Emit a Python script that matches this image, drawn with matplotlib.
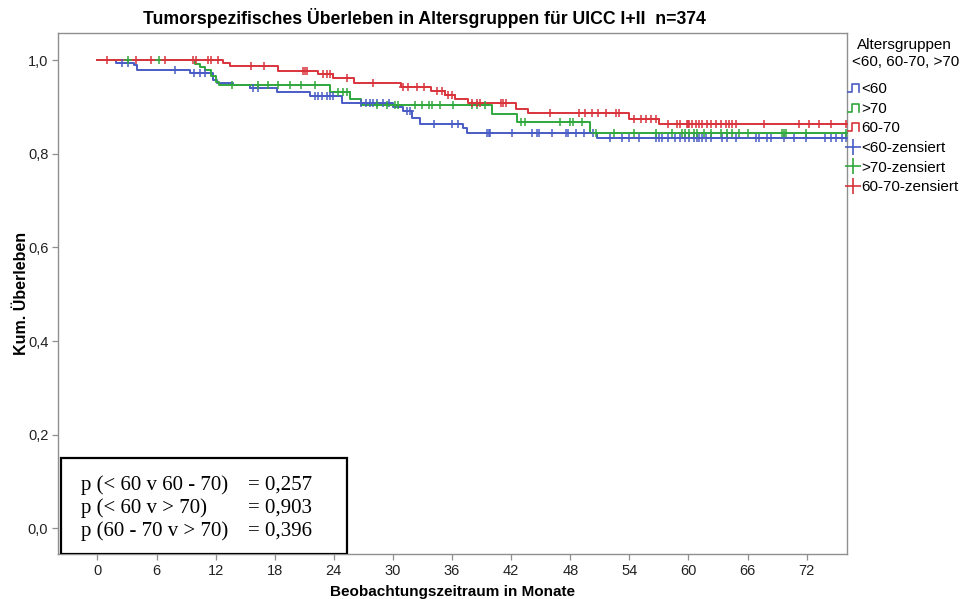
import numpy as np
import matplotlib
matplotlib.use("Agg")
import matplotlib.pyplot as plt
from matplotlib.lines import Line2D
from matplotlib.patches import Rectangle
from matplotlib.legend_handler import HandlerBase

plt.rcParams['font.family'] = ['Liberation Sans', 'DejaVu Sans']

# Kaplan-Meier Daten: Ereigniszeitpunkte (Monate) und Überleben nach jedem Schritt
t_lt60 = [1.9, 3.7, 4.0, 9.4, 11.7, 12.1, 13.8, 15.5, 18.2, 21.6, 24.8,
          30.0, 31.0, 31.9, 32.7, 37.1, 37.5, 50.7]
s_lt60 = [0.994, 0.989, 0.979, 0.972, 0.958, 0.952, 0.947, 0.941, 0.932, 0.923, 0.909,
          0.900, 0.891, 0.876, 0.864, 0.855, 0.844, 0.833]
c_lt60 = [2.5, 3.1, 7.9, 9.8, 10.4, 10.9, 15.8, 16.3, 22.1, 22.4, 22.8, 23.3, 23.6, 23.9,
          26.8, 27.3, 27.7, 28.0, 28.4, 29.0, 29.6, 31.4, 31.7, 34.2, 36.0, 36.6,
          39.5, 39.7, 39.9, 42.1, 44.1, 44.6, 44.8, 46.1, 47.6, 47.8, 48.6, 49.4, 50.3,
          52.0, 53.3, 54.0, 55.0, 56.7, 57.0, 57.3, 57.9, 58.6, 59.1, 59.6, 60.1, 60.6,
          60.9, 61.1, 61.4, 61.8, 62.3, 63.4, 63.9, 64.8, 66.9, 67.2, 68.0, 68.4, 69.7,
          70.7, 71.9, 73.9, 74.5, 75.0, 75.6, 76.0]

t_gt70 = [9.9, 10.4, 10.9, 11.5, 12.0, 12.3, 23.6, 25.6, 26.8, 40.1, 42.6, 50.0]
s_gt70 = [0.991, 0.986, 0.979, 0.966, 0.954, 0.946, 0.932, 0.918, 0.904, 0.886, 0.868, 0.845]
c_gt70 = [3.1, 6.2, 13.7, 16.3, 17.3, 18.3, 19.5, 20.7, 22.1, 24.4, 24.9, 25.3,
          28.4, 29.4, 30.2, 30.5, 32.2, 32.9, 33.7, 34.0, 34.8, 36.1, 38.0, 38.5, 39.3,
          43.0, 43.4, 47.0, 48.0, 48.3, 49.2, 50.6, 52.4, 54.5, 56.7, 58.3, 59.3, 59.6,
          60.1, 60.6, 60.9, 61.6, 62.3, 63.3, 63.9, 64.4, 65.1, 66.0, 69.5, 69.7, 69.9,
          71.9, 76.0]

t_6070 = [12.7, 13.5, 18.3, 22.4, 23.9, 26.0, 30.8, 33.9, 35.3, 36.3, 37.6,
          42.5, 43.7, 54.0, 57.0]
s_6070 = [0.993, 0.987, 0.977, 0.970, 0.962, 0.952, 0.943, 0.934, 0.925, 0.917, 0.908,
          0.896, 0.888, 0.874, 0.863]
c_6070 = [1.0, 3.9, 5.4, 6.9, 9.7, 10.0, 11.2, 11.5, 12.2, 15.6, 16.9, 20.9, 21.1, 21.3,
          22.9, 23.3, 23.6, 25.3, 28.0, 31.0, 31.5, 32.4, 33.2, 34.5, 35.0, 35.6, 36.0,
          38.0, 38.5, 38.8, 41.0, 41.2, 41.5, 45.9, 48.9, 49.5, 50.2, 50.8, 51.6, 52.6,
          52.9, 54.5, 55.2, 55.7, 56.2, 56.7, 57.9, 58.8, 59.1, 59.8, 59.9, 60.1, 60.4,
          60.8, 61.1, 61.4, 61.9, 62.3, 62.8, 63.3, 63.8, 64.1, 64.4, 64.8, 67.7, 71.2,
          72.2, 73.2, 74.5, 76.0]

groups = ['<60', '>70', '60-70']
colors = {'<60': '#4a5cc5', '>70': '#31a83d', '60-70': '#d9343c'}

x_ticks = list(range(0, 73, 6))
y_ticks = [0.0, 0.2, 0.4, 0.6, 0.8, 1.0]
y_labels = ['0,0', '0,2', '0,4', '0,6', '0,8', '1,0']

p_labels = ['p (< 60 v 60 - 70)', 'p (< 60 v > 70)', 'p (60 - 70 v > 70)']
p_values = ['0,257', '0,903', '0,396']


def km_step(events, surv, cens):
    t_end = max(cens)
    t = np.r_[0.0, events, t_end]
    s = np.r_[1.0, surv, surv[-1]]
    idx = np.searchsorted(events, cens, side='right')
    s_full = np.r_[1.0, surv]
    return t, s, np.array(cens), s_full[idx]


class StepIcon(HandlerBase):
    # kleines Treppensymbol für die Linien in der Legende
    def create_artists(self, legend, orig_handle, xdescent, ydescent,
                       width, height, fontsize, trans):
        x0, y0 = -xdescent, -ydescent + 0.1 * height
        h = 0.75 * height
        xs = [x0, x0 + 0.4 * width, x0 + 0.4 * width, x0 + width, x0 + width]
        ys = [y0, y0, y0 + h, y0 + h, y0]
        return [Line2D(xs, ys, color=orig_handle.get_color(), lw=1.2, transform=trans)]


fig = plt.figure(figsize=(9.67, 5.99), dpi=100)
ax = fig.add_axes([0.060, 0.0751, 0.816, 0.8698])

data = {'<60': (t_lt60, s_lt60, c_lt60),
        '>70': (t_gt70, s_gt70, c_gt70),
        '60-70': (t_6070, s_6070, c_6070)}

for g in groups:
    t, s, ct, cs = km_step(*data[g])
    ax.step(t, s, where='post', color=colors[g], lw=1.4, zorder=3)
    ax.plot(ct, cs, ls='none', marker='+', ms=6, mew=1.1, color=colors[g], zorder=4)

ax.set_xlim(-4.0, 76.1)
ax.set_ylim(-0.055, 1.058)
ax.set_xticks(x_ticks)
ax.set_yticks(y_ticks)
ax.set_yticklabels(y_labels)

for sp in ax.spines.values():
    sp.set_color('#8f8f8f')
    sp.set_linewidth(1.0)
ax.tick_params(direction='out', length=4, width=0.9, color='#8f8f8f',
               labelsize=10.5, labelcolor='#222222', pad=3)

ax.set_xlabel('Beobachtungszeitraum in Monate', fontsize=11, fontweight='bold', labelpad=5)
ax.set_ylabel('Kum. Überleben', fontsize=11.5, fontweight='bold', labelpad=-1)
fig.text(0.4385, 0.97, 'Tumorspezifisches Überleben in Altersgruppen für UICC I+II  n=374',
         ha='center', va='center', fontsize=12.7, fontweight='bold')

# Kasten mit den p-Werten
ax.add_patch(Rectangle((0.004, 0.0), 0.362, 0.184, transform=ax.transAxes,
                       fill=True, facecolor='white', edgecolor='black', lw=1.6, zorder=5))
for i, (lab, val) in enumerate(zip(p_labels, p_values)):
    y = 0.132 - i * 0.044
    ax.text(0.029, y, lab, transform=ax.transAxes, fontsize=15, va='center',
            family=['Liberation Serif'], zorder=6)
    ax.text(0.241, y, '= ' + val, transform=ax.transAxes, fontsize=15, va='center',
            family=['Liberation Serif'], zorder=6)

# Legende rechts neben dem Diagramm
fig.text(0.935, 0.9249, 'Altersgruppen', ha='center', va='center', fontsize=11)
fig.text(0.937, 0.8965, '<60, 60-70, >70', ha='center', va='center', fontsize=11)
handles = [Line2D([], [], color=colors[g]) for g in groups]
handles += [Line2D([], [], ls='none', marker='+', ms=12, mew=1.2, color=colors[g]) for g in groups]
labels = groups + [g + '-zensiert' for g in groups]
handler_map = {h: StepIcon() for h in handles[:3]}
leg = fig.legend(handles, labels, handler_map=handler_map,
                 loc='upper left', bbox_to_anchor=(0.8765, 0.863),
                 frameon=False, fontsize=11, handlelength=0.75, handletextpad=0.12,
                 labelspacing=0.37, borderpad=0, borderaxespad=0, numpoints=1)

fig.savefig('out.png', dpi=100)
